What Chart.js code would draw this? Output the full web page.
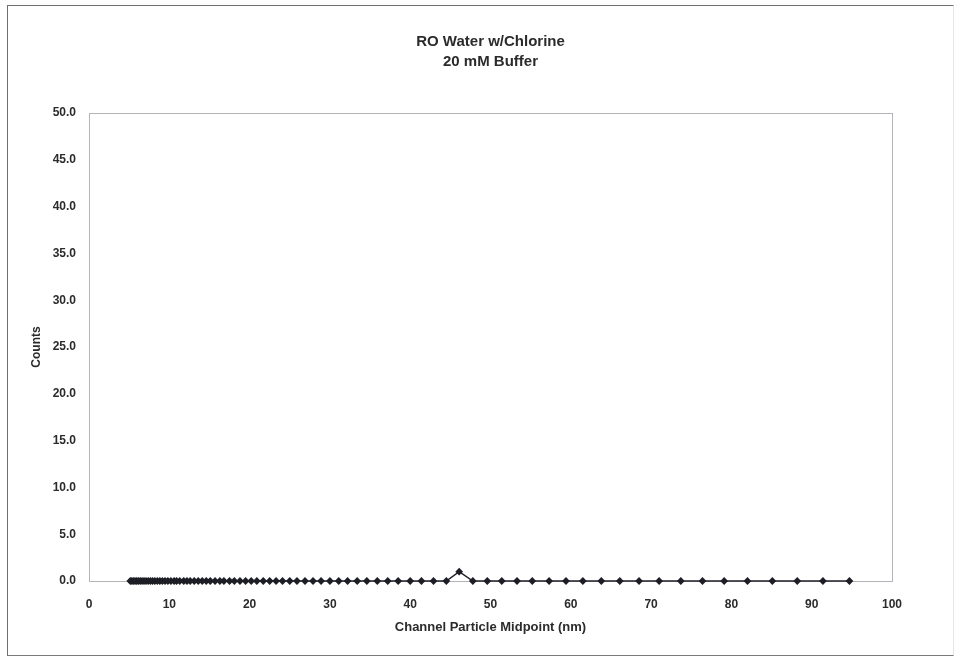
<!DOCTYPE html>
<html>
<head>
<meta charset="utf-8">
<script src="https://cdn.jsdelivr.net/npm/chart.js@4/dist/chart.umd.min.js"></script>
<style>
  html, body { margin: 0; padding: 0; background: #fff; }
  #wrap { position: relative; width: 960px; height: 658px; overflow: hidden; }
  #frame {
    position: absolute; left: 7px; top: 5px; width: 947px; height: 651px;
    border-left: 1px solid #6f6f6f; border-top: 1px solid #6f6f6f;
    border-bottom: 1px solid #7a7a7a; border-right: 1px solid #e6e6e6;
    box-sizing: border-box;
  }
  #c { position: absolute; left: 0; top: 0; }
</style>
</head>
<body>
<div id="wrap">
  <div id="frame"></div>
  <canvas id="c" width="960" height="658"></canvas>
</div>
<script>
// Channel midpoint diameters (nm)
const midpoints = [
  5.14, 5.33, 5.52, 5.73, 5.94, 6.15, 6.38, 6.61, 6.85, 7.10,
  7.37, 7.64, 7.91, 8.20, 8.51, 8.82, 9.14, 9.47, 9.82, 10.2,
  10.6, 10.9, 11.3, 11.8, 12.2, 12.6, 13.1, 13.6, 14.1, 14.6,
  15.1, 15.7, 16.3, 16.8, 17.5, 18.1, 18.8, 19.5, 20.2, 20.9,
  21.7, 22.5, 23.3, 24.1, 25.0, 25.9, 26.9, 27.9, 28.9, 30.0,
  31.1, 32.2, 33.4, 34.6, 35.9, 37.2, 38.5, 40.0, 41.4, 42.9,
  44.5, 46.1, 47.8, 49.6, 51.4, 53.3, 55.2, 57.3, 59.4, 61.5,
  63.8, 66.1, 68.5, 71.0, 73.7, 76.4, 79.1, 82.0, 85.1, 88.2,
  91.4, 94.7
];

// Counts per channel
const counts = [
  0, 0, 0, 0, 0, 0, 0, 0, 0, 0,
  0, 0, 0, 0, 0, 0, 0, 0, 0, 0,
  0, 0, 0, 0, 0, 0, 0, 0, 0, 0,
  0, 0, 0, 0, 0, 0, 0, 0, 0, 0,
  0, 0, 0, 0, 0, 0, 0, 0, 0, 0,
  0, 0, 0, 0, 0, 0, 0, 0, 0, 0,
  0, 1.0, 0, 0, 0, 0, 0, 0, 0, 0,
  0, 0, 0, 0, 0, 0, 0, 0, 0, 0,
  0, 0
];

const titleLines = ['RO Water w/Chlorine', '20 mM Buffer'];
const xAxisTitle = 'Channel Particle Midpoint (nm)';
const yAxisTitle = 'Counts';

const FONT = '"Liberation Sans", Arial, sans-serif';
const TEXT = '#2b2b2b';

// Light grey box around the plotting area
const plotBox = {
  id: 'plotBox',
  beforeDatasetsDraw(chart) {
    const a = chart.chartArea;
    const ctx = chart.ctx;
    ctx.save();
    ctx.strokeStyle = '#b4b4b8';
    ctx.lineWidth = 1;
    ctx.strokeRect(Math.round(a.left) + 0.5, Math.round(a.top) + 0.5,
                   Math.round(a.right - a.left), Math.round(a.bottom - a.top));
    ctx.restore();
  }
};

new Chart(document.getElementById('c'), {
  type: 'scatter',
  data: {
    datasets: [{
      data: midpoints.map((x, i) => ({ x, y: counts[i] })),
      showLine: true,
      borderColor: '#202028',
      borderWidth: 1.5,
      backgroundColor: '#1d1d26',
      pointStyle: 'rectRot',
      pointRadius: 3.9,
      pointBorderWidth: 0,
      pointBackgroundColor: '#1d1d26',
      clip: false
    }]
  },
  plugins: [plotBox],
  options: {
    responsive: false,
    animation: false,
    devicePixelRatio: 1,
    layout: { padding: { left: 0, right: 68, top: 0, bottom: 0 } },
    plugins: {
      legend: { display: false },
      tooltip: { enabled: false },
      title: {
        display: true,
        fullSize: false,
        text: titleLines,
        color: TEXT,
        font: { family: FONT, size: 15, weight: 'bold', lineHeight: 20 / 15 },
        padding: { top: 32, bottom: 41 }
      }
    },
    scales: {
      x: {
        type: 'linear',
        min: 0, max: 100,
        grid: { display: false, drawTicks: false },
        border: { display: false },
        ticks: {
          stepSize: 10,
          padding: 16,
          color: TEXT,
          font: { family: FONT, size: 12, weight: 'bold' },
          maxRotation: 0
        },
        title: {
          display: true,
          text: xAxisTitle,
          color: TEXT,
          font: { family: FONT, size: 13, weight: 'bold' },
          padding: { top: 0, bottom: 23 }
        },
        afterFit(scale) { scale.height = 77; }
      },
      y: {
        min: 0, max: 50,
        grid: { display: false, drawTicks: false },
        border: { display: false },
        ticks: {
          stepSize: 5,
          padding: 13,
          color: TEXT,
          font: { family: FONT, size: 12, weight: 'bold' },
          callback: v => Number(v).toFixed(1)
        },
        title: {
          display: true,
          text: yAxisTitle,
          color: TEXT,
          font: { family: FONT, size: 12, weight: 'bold' },
          padding: { top: 29, bottom: 0 }
        },
        afterFit(scale) { scale.width = 89; }
      }
    }
  }
});
</script>
</body>
</html>
